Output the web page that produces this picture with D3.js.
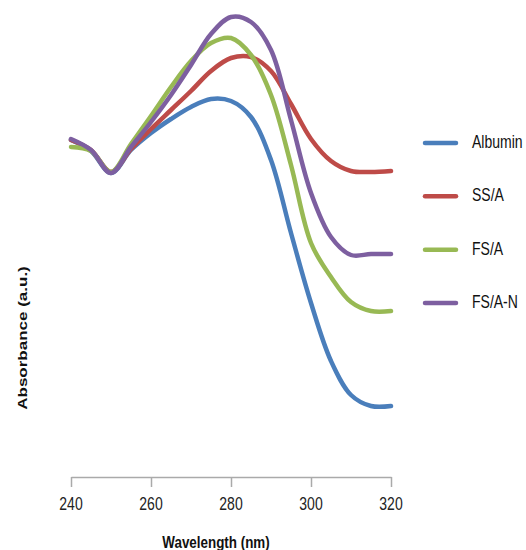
<!DOCTYPE html>
<html>
<head>
<meta charset="utf-8">
<script src="https://cdn.jsdelivr.net/npm/d3@7"></script>
<style>
  body { margin: 0; background: #fff; }
  text { font-family: "Liberation Sans", Arial, sans-serif; }
</style>
</head>
<body>
<div id="chart"></div>
<script>
var wavelengths = [240, 245, 250, 255, 260, 265, 270, 275, 280, 285, 290, 295, 300, 305, 310, 315, 320];

var albumin = [1.685, 1.63, 1.52, 1.635, 1.72, 1.79, 1.85, 1.89, 1.88, 1.80, 1.585, 1.22, 0.87, 0.58, 0.41, 0.355, 0.355];
var ssA     = [1.685, 1.635, 1.525, 1.64, 1.74, 1.835, 1.93, 2.03, 2.095, 2.10, 2.03, 1.865, 1.69, 1.58, 1.53, 1.525, 1.53];
var fsA     = [1.65, 1.63, 1.525, 1.665, 1.805, 1.95, 2.08, 2.17, 2.195, 2.11, 1.91, 1.56, 1.17, 1.0, 0.875, 0.83, 0.83];
var fsAN    = [1.69, 1.635, 1.52, 1.65, 1.775, 1.91, 2.06, 2.215, 2.30, 2.275, 2.135, 1.785, 1.42, 1.20, 1.11, 1.115, 1.115];

var seriesNames = ['Albumin', 'SS/A', 'FS/A', 'FS/A-N'];
var seriesValues = [albumin, ssA, fsA, fsAN];
var seriesColors = ['#4a7ebb', '#be4b48', '#98b954', '#7d5fa0'];
var xTicks = [240, 260, 280, 300, 320];

var width = 526, height = 550;
// text in the reference is stretched vertically
var stretch = 1.27;

var svg = d3.select('#chart').append('svg')
  .attr('width', width)
  .attr('height', height);

var x = d3.scaleLinear().domain([240, 320]).range([71, 391]);
var y = d3.scaleLinear().domain([0, 2.3]).range([477, 17]);

// x axis
var axis = svg.append('g').attr('transform', 'translate(0,477)');
axis.call(d3.axisBottom(x).tickValues(xTicks).tickSize(10).tickSizeOuter(0).tickFormat(d3.format('d')));
axis.select('.domain').attr('stroke', '#aaa').attr('stroke-width', 1.5);
axis.selectAll('.tick line').attr('stroke', '#aaa').attr('stroke-width', 1.5);
axis.selectAll('.tick text').remove();

svg.selectAll('text.tick-label')
  .data(xTicks)
  .enter().append('text')
  .attr('class', 'tick-label')
  .attr('transform', function(d) { return 'translate(' + x(d) + ',510) scale(1,' + stretch + ')'; })
  .attr('text-anchor', 'middle')
  .style('font-size', '14px')
  .style('fill', '#222')
  .text(function(d) { return d; });

// axis titles
svg.append('text')
  .attr('transform', 'translate(216,548) scale(1,' + stretch + ')')
  .attr('text-anchor', 'middle')
  .style('font-size', '13.4px')
  .style('font-weight', 'bold')
  .style('fill', '#111')
  .text('Wavelength (nm)');

svg.append('text')
  .attr('transform', 'translate(27,338) scale(1,' + stretch + ') rotate(-90)')
  .attr('text-anchor', 'middle')
  .style('font-size', '13.4px')
  .style('font-weight', 'bold')
  .style('fill', '#111')
  .text('Absorbance (a.u.)');

// curves
var line = d3.line()
  .x(function(d, i) { return x(wavelengths[i]); })
  .y(function(d) { return y(d); })
  .curve(d3.curveCatmullRom.alpha(0.5));

svg.selectAll('path.series')
  .data(seriesValues)
  .enter().append('path')
  .attr('class', 'series')
  .attr('d', line)
  .style('fill', 'none')
  .style('stroke', function(d, i) { return seriesColors[i]; })
  .style('stroke-width', 4.5)
  .style('stroke-linecap', 'round')
  .style('stroke-linejoin', 'round');

// legend
var legendY = d3.scalePoint().domain(seriesNames).range([143, 303]);

var legend = svg.selectAll('g.legend')
  .data(seriesNames)
  .enter().append('g')
  .attr('class', 'legend');

legend.append('line')
  .attr('x1', 425).attr('x2', 456)
  .attr('y1', function(d) { return legendY(d); })
  .attr('y2', function(d) { return legendY(d); })
  .style('stroke', function(d, i) { return seriesColors[i]; })
  .style('stroke-width', 4.5)
  .style('stroke-linecap', 'round');

legend.append('text')
  .attr('transform', function(d) { return 'translate(472,' + (legendY(d) + 5) + ') scale(1,' + stretch + ')'; })
  .style('font-size', '14px')
  .style('fill', '#111')
  .text(function(d) { return d; });
</script>
</body>
</html>
